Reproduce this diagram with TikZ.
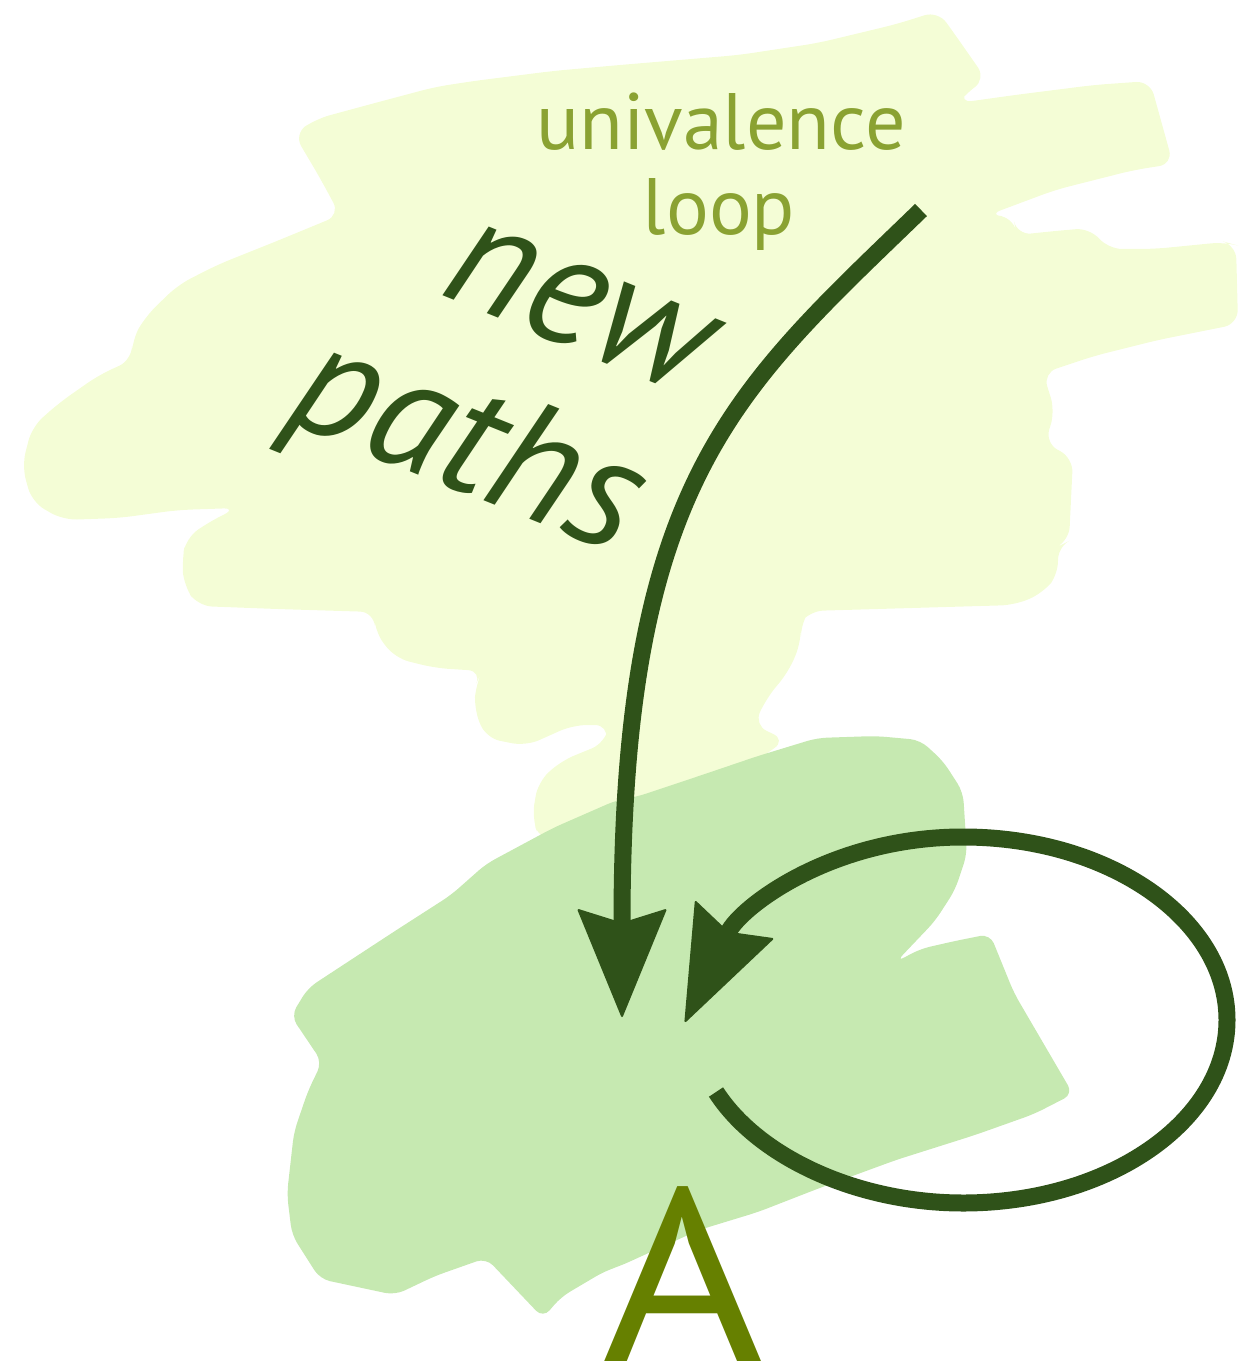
\documentclass[tikz,border=0pt]{standalone}
\usepackage{fontspec}
\setmainfont{PT Sans}
\usetikzlibrary{arrows.meta}
\definecolor{lightblob}{HTML}{F4FDD6}
\definecolor{darkblob}{HTML}{C6E9B1}
\definecolor{arrowgreen}{HTML}{2F5219}
\definecolor{labelolive}{HTML}{8AA232}
\definecolor{objolive}{HTML}{668000}
\tikzset{
  lightpatch/.style={fill=lightblob, draw=none, rounded corners=7pt},
  darkpatch/.style={fill=darkblob, draw=none, rounded corners=5pt},
  conn/.style={draw=arrowgreen, line width=8.5pt},
  bigtip/.style={-{Stealth[length=55pt,width=45pt,inset=7pt,line width=1pt,round]}},
  looptip/.style={-{Stealth[length=58pt,width=44pt,inset=7pt,line width=1pt,round]}},
  looplabel/.style={text=labelolive, inner sep=0pt, font=\fontsize{40pt}{42pt}\selectfont},
  pathlabel/.style={text=arrowgreen, inner sep=0pt, rotate=-22, font=\fontsize{81pt}{86pt}\selectfont\itshape},
  objlabel/.style={text=objolive, inner sep=0pt, xscale=1.12, font=\fontsize{123pt}{130pt}\selectfont},
}
\begin{document}
\begin{tikzpicture}[x=0.5pt,y=-0.5pt]
\useasboundingbox (0,0) rectangle (1238,1368);
% light brush patch
\path[lightpatch] (294,134) -- (316,119) -- (375,103) -- (435,87) -- (474,81) -- (553,71)
  -- (620,65) -- (739,55) -- (818,43) -- (897,24) -- (938,11) -- (956,36) -- (986,79)
  -- (964,95) -- (958,103) -- (1015,95) -- (1094,85) -- (1150,81) -- (1173,164)
  -- (1134,170) -- (1055,190) -- (1015,205) -- (988,215) -- (1013,217) -- (1017,235)
  -- (1055,231) -- (1090,228) -- (1108,249) -- (1154,249) -- (1225,242) -- (1236,245)
  -- (1238,324) -- (1158,340) -- (1094,356) -- (1043,373) -- (1055,411) -- (1045,443)
  -- (1073,458) -- (1069,541) -- (1057,547) -- (1059,573) -- (1043,593) -- (1015,605)
  -- (809,611) -- (801,622) -- (801,642) -- (789,671) -- (766,699) -- (754,725)
  -- (786,740) -- (700,800) -- (600,840) -- (540,840) -- (532,818) -- (538,782)
  -- (561,761) -- (605,743) -- (609,725) -- (573,725) -- (526,746) -- (486,738)
  -- (474,709) -- (476,684) -- (482,671) -- (435,668) -- (395,658) -- (375,632)
  -- (374,612) -- (277,609) -- (198,606) -- (184,586) -- (182,561) -- (186,538)
  -- (209,522) -- (237,508) -- (178,510) -- (119,518) -- (63,520) -- (32,502)
  -- (22,466) -- (32,427) -- (59,403) -- (99,375) -- (132,360) -- (132,340)
  -- (146,316) -- (178,285) -- (217,265) -- (277,241) -- (340,215) -- (320,178) -- cycle;
% darker brush patch
\path[darkpatch] (617,800) -- (553,828) -- (486,864) -- (451,895) -- (395,931) -- (340,967)
  -- (308,988) -- (291,1016) -- (322,1062) -- (308,1091) -- (294,1132) -- (287,1194)
  -- (292,1235) -- (320,1279) -- (395,1295) -- (435,1276) -- (486,1258) -- (543,1318)
  -- (561,1297) -- (605,1271) -- (620,1266) -- (699,1230) -- (758,1212) -- (817,1189)
  -- (896,1160) -- (975,1135) -- (1034,1114) -- (1073,1094) -- (1014,993) -- (990,934)
  -- (955,941) -- (920,949) -- (896,962) -- (935,921) -- (955,890) -- (967,854)
  -- (963,792) -- (943,761) -- (920,740) -- (876,736) -- (817,738) -- (758,756)
  -- (699,776) -- (636,797) -- cycle;
% labels
\node[looplabel, anchor=base] (univ) at (721,150) {univalence};
\node[looplabel, anchor=base] (loopword) at (719,235) {loop};
\node[pathlabel, anchor=base] (newword) at (563,344) {new};
\node[pathlabel, anchor=base] (pathsword) at (450,487) {paths};
\node[objlabel, anchor=base] (objA) at (683,1361) {A};
% connector ends
\coordinate (ustart) at (921,210);
\coordinate (utip) at (622,1017);
\coordinate (lstart) at (716,1092);
\coordinate (ltip) at (685,1022);
% connectors
\draw[conn, bigtip] (ustart) .. controls (735,390) and (622,480) .. (utip);
\draw[conn, looptip] (lstart) .. controls (758,1157) and (857,1203) .. (963,1203)
  .. controls (1109,1203) and (1227,1121) .. (1227,1020)
  .. controls (1227,919) and (1109,837) .. (963,837)
  .. controls (830,837) and (740,908) .. (ltip);
\end{tikzpicture}
\end{document}
